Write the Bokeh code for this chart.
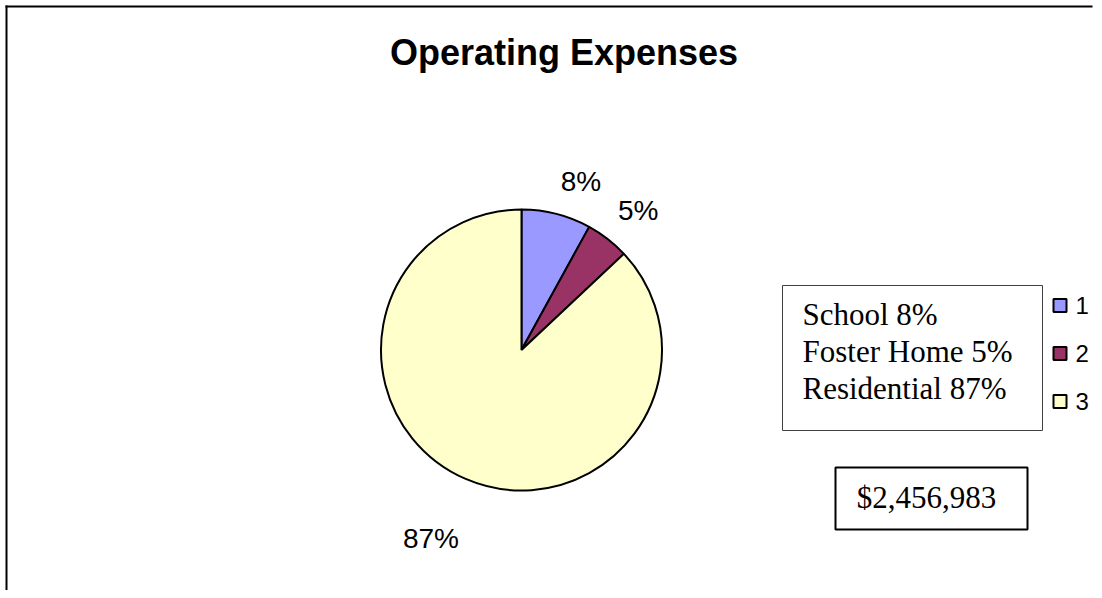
import math
from bokeh.plotting import figure
from bokeh.models import Range1d
from bokeh.core.properties import value
from bokeh.embed import file_html
from bokeh.resources import INLINE

# ---- data ----
categories = ["School", "Foster Home", "Residential"]
shares = [8, 5, 87]
colors = ["#9999FF", "#993366", "#FFFFCC"]
legend_keys = ["1", "2", "3"]
total_label = "$2,456,983"
title_text = "Operating Expenses"

# ---- canvas (data units == screen pixels, y negated) ----
W, H = 1094, 590
p = figure(width=W, height=H, x_range=Range1d(0, W), y_range=Range1d(-H, 0),
           output_backend="svg", toolbar_location=None,
           x_axis_type=None, y_axis_type=None, min_border=0,
           outline_line_color=None)
p.background_fill_color = "white"
p.border_fill_color = "white"

SANS = value("Liberation Sans")
SERIF = value("Liberation Serif")

# outer frame (top and left edges visible)
p.segment(x0=[5, 6], y0=[-6, -5], x1=[W - 2, 6], y1=[-6, -H], line_color="black", line_width=2)

# title
p.text(x=[563.5], y=[-52], text=[title_text], text_font=SANS, text_font_style="bold",
       text_font_size="36px", text_align="center", text_baseline="alphabetic", text_color="black")

# ---- pie ----
cx, cy, R = 521, 349.5, 140.5
total = float(sum(shares))
starts, ends, mids = [], [], []
acc = 0.0
for s in shares:
    f = s / total
    starts.append(math.pi / 2 - 2 * math.pi * acc)
    ends.append(math.pi / 2 - 2 * math.pi * (acc + f))
    mids.append(2 * math.pi * (acc + f / 2))  # clockwise from 12 o'clock
    acc += f

p.wedge(x=cx, y=-cy, radius=R, start_angle=starts, end_angle=ends, direction="clock",
        fill_color=colors, line_color="black", line_width=2)

# data labels outside the slices
gap = 17
lx, ly, la, lb, loff = [], [], [], [], []
for t in mids:
    sx, cz = math.sin(t), math.cos(t)
    lx.append(cx + (R + gap) * sx)
    ly.append(-(cy - (R + gap) * cz))
    la.append("left" if sx >= 0 else "right")
    lb.append("bottom" if cz >= 0 else "top")
    loff.append(0 if cz >= 0 else 28)
p.text(x=lx, y=ly, text=[f"{s}%" for s in shares], text_align=la, text_baseline=lb,
       y_offset=loff, text_font=SANS, text_font_size="28px", text_color="black")

# ---- text box with category shares ----
p.quad(left=782, right=1042, top=-285, bottom=-430, fill_color="white",
       line_color="#404040", line_width=1)
p.text(x=[802] * len(categories), y=[-314 - 37 * i for i in range(len(categories))],
       text=[f"{c} {s}%" for c, s in zip(categories, shares)],
       text_font=SERIF, text_font_size="31px", text_align="left",
       text_baseline="alphabetic", text_color="black")

# ---- legend keys 1,2,3 ----
ky = [-(305 + 48 * i) for i in range(len(legend_keys))]
p.scatter(x=[1059.5] * len(legend_keys), y=ky, marker="square", size=13,
          fill_color=colors, line_color="black", line_width=2)
p.text(x=[1075] * len(legend_keys), y=ky, text=legend_keys, text_font=SANS,
       text_font_size="24px", text_align="left", text_baseline="middle", text_color="black")

# ---- total box ----
p.quad(left=835, right=1027, top=-467, bottom=-529, fill_color="white",
       line_color="black", line_width=2)
p.text(x=[926], y=[-497], text=[total_label], text_font=SERIF, text_font_size="31px",
       text_align="center", text_baseline="alphabetic", text_color="black")

open("out.html", "w").write(file_html(p, INLINE))
